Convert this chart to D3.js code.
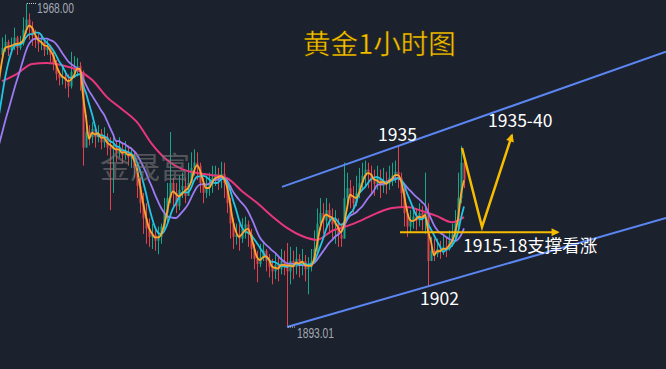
<!DOCTYPE html>
<html><head><meta charset="utf-8">
<script src="https://cdn.jsdelivr.net/npm/d3@7"></script>
<style>html,body{margin:0;padding:0;background:#1b212d;overflow:hidden}svg{display:block}</style>
</head><body><svg id="c" width="666" height="369"></svg>
<script>
// ---- data (gold, 1-hour candles) ----
const leadCloses=[1925.9,1927.1,1928.0,1928.9,1929.9,1930.5,1931.7,1934.0,1937.5,1943.3,1950.3,1956.1];
const closes=[
1957.7,1959.1,1957.2,1958.2,1960.1,1957.7,1958.7,1961.9,1964.3,1962.4,
1960.5,1959.6,1958.7,1959.1,1957.2,1958.2,1956.1,1954.0,1951.6,1950.7,
1951.1,1950.2,1948.8,1952.1,1953.0,1953.5,1952.1,1934.6,1938.2,1937.0,
1938.9,1937.0,1937.9,1935.8,1937.0,1934.6,1934.2,1935.1,1933.2,1934.2,
1932.8,1933.7,1932.3,1932.8,1929.9,1925.7,1921.7,1918.2,1915.8,1913.9,
1914.4,1913.0,1913.9,1916.3,1919.4,1922.9,1926.4,1924.1,1921.0,1924.8,
1925.7,1923.4,1926.4,1929.9,1931.1,1930.4,1926.4,1924.1,1925.2,1926.4,
1927.6,1928.5,1927.1,1928.5,1926.4,1921.7,1917.0,1913.9,1914.4,1913.5,
1915.8,1916.8,1914.6,1911.1,1908.8,1907.6,1909.2,1910.7,1908.3,1906.9,
1905.9,1907.4,1906.4,1908.3,1907.6,1905.9,1908.3,1906.9,1908.8,1907.4,
1908.3,1906.4,1906.9,1908.3,1911.1,1917.0,1919.4,1917.7,1920.1,1918.2,
1916.8,1917.0,1914.4,1913.5,1922.9,1925.2,1922.9,1921.7,1924.1,1926.4,
1928.1,1929.5,1928.5,1927.1,1926.2,1927.6,1925.7,1926.6,1926.2,1927.6,
1928.1,1929.0,1927.6,1924.1,1919.4,1916.3,1917.7,1918.6,1917.7,1919.4,
1918.2,1919.4,1908.3,1910.7,1909.9,1911.1,1910.7,1911.6,1911.1,1913.0,
1914.4,1917.0,1922.9,1931.1,1927.1];
const highs=[
1960.1,1960.8,1959.6,1960.1,1962.4,1960.5,1960.5,1964.8,1968.0,1965.7,
1963.8,1961.9,1961.0,1960.8,1959.6,1959.6,1958.4,1957.2,1954.9,1952.5,
1953.5,1952.5,1951.6,1956.8,1955.8,1955.4,1954.4,1952.5,1942.1,1939.8,
1940.5,1939.3,1939.8,1938.9,1939.3,1937.9,1937.0,1937.0,1936.1,1937.0,
1935.8,1936.1,1935.1,1934.6,1933.5,1931.1,1927.6,1924.1,1921.7,1918.2,
1917.0,1915.8,1916.3,1917.0,1922.9,1926.4,1938.2,1927.6,1926.4,1928.1,
1928.8,1927.6,1931.1,1933.5,1934.2,1933.5,1931.1,1927.6,1928.1,1928.8,
1930.4,1930.4,1929.9,1931.3,1931.1,1927.6,1922.9,1918.2,1917.0,1916.8,
1918.2,1918.6,1917.7,1915.8,1912.3,1910.7,1912.3,1913.0,1911.1,1909.9,
1908.8,1909.9,1909.2,1911.1,1910.7,1912.5,1911.6,1910.7,1911.6,1909.9,
1911.1,1909.7,1909.2,1911.1,1915.4,1920.5,1922.9,1921.7,1922.9,1921.7,
1920.5,1920.1,1918.2,1917.0,1931.1,1928.8,1927.1,1925.7,1928.1,1929.9,
1931.1,1931.6,1931.1,1930.4,1929.5,1930.4,1929.5,1929.9,1929.0,1930.4,
1931.1,1931.6,1935.2,1928.8,1925.2,1920.5,1920.1,1921.0,1920.5,1921.7,
1921.0,1928.8,1921.7,1913.9,1913.5,1913.5,1913.0,1914.4,1913.9,1915.4,
1917.0,1920.1,1928.8,1935.0,1932.3];
const lows=[
1955.4,1956.8,1955.8,1956.5,1957.2,1956.1,1957.2,1958.2,1961.0,1959.6,
1958.2,1957.7,1956.8,1957.2,1955.8,1956.1,1954.4,1952.5,1950.2,1949.0,
1949.2,1948.3,1946.2,1948.3,1950.7,1951.1,1947.8,1930.4,1934.6,1935.1,
1935.6,1934.6,1935.8,1934.2,1934.6,1932.8,1920.1,1924.1,1931.3,1932.3,
1930.9,1931.8,1930.4,1929.9,1927.6,1922.9,1919.4,1914.6,1912.3,1911.6,
1911.1,1910.7,1909.9,1912.3,1915.4,1917.0,1921.7,1920.5,1919.4,1920.1,
1922.9,1921.7,1923.4,1926.4,1928.1,1927.1,1924.1,1921.7,1922.9,1923.4,
1924.1,1925.7,1924.8,1925.2,1922.9,1919.4,1913.5,1911.1,1912.1,1910.7,
1912.5,1913.5,1911.6,1908.8,1906.4,1903.4,1906.9,1908.3,1905.9,1904.5,
1902.9,1904.1,1903.6,1905.2,1905.0,1893.01,1902.9,1904.1,1905.2,1904.5,
1905.0,1903.6,1900.6,1905.9,1908.3,1909.9,1915.4,1914.6,1916.3,1914.6,
1913.5,1912.3,1911.6,1911.6,1913.5,1920.5,1920.5,1919.4,1921.0,1922.9,
1924.8,1925.7,1925.2,1924.1,1923.4,1924.8,1922.9,1924.1,1923.8,1924.8,
1925.7,1926.4,1925.2,1921.0,1916.3,1913.9,1914.9,1915.8,1915.4,1916.3,
1915.4,1914.6,1902.3,1908.3,1908.3,1909.2,1908.8,1909.7,1909.2,1910.7,
1911.6,1913.5,1915.4,1921.7,1925.2];
// slow moving average (pink), read at these candle indices
const slowIdx=[0,5,10,15,20,25,30,35,40,45,50,55,60,65,70,75,80,85,90,95,100,105,110,115,120,125,130,135,140,145,150,154];
const slowMA=[1950.0,1951.7,1954.0,1954.2,1953.7,1952.6,1950.3,1946.3,1943.5,1940.5,1935.4,1931.7,1929.6,1928.7,1928.2,1927.5,1924.5,1921.8,1918.7,1916.0,1914.1,1913.2,1915.3,1916.4,1917.8,1919.4,1920.6,1920.8,1919.9,1918.7,1917.3,1918.5];
const maPeriods=[3,6,12];
// annotations: [candle index, price]
const channelUpper=[[93.33,1925.5],[221.33,1956.8]];
const channelLower=[[95,1893.0],[221.33,1918.3]];
const supportLine=[[132.67,1915.0],[185.33,1915.0]];
const forecastPath=[[153.33,1934.5],[160,1916.2],[170,1937.5]];
const title="黄金1小时图";
const labelHigh="1935", labelLow="1902", labelTarget="1935-40", labelSupport="1915-18支撑看涨";
const watermark="金晟富";

// ---- drawing ----
const svg=d3.select('#c');
const x=d3.scaleLinear().domain([0,154]).range([2,464]);
const y=d3.scaleLinear().domain([1893.01,1968]).range([327,3.5]);
const all=leadCloses.concat(closes);
const off=leadCloses.length;
const opens=closes.map((c,i)=>all[off+i-1]);

svg.append('rect').attr('width',666).attr('height',369).attr('fill','#1b212d');

const defs=svg.append('defs');
defs.append('marker').attr('id','arr').attr('viewBox','0 0 10 10').attr('refX',8).attr('refY',5)
  .attr('markerWidth',9).attr('markerHeight',8).attr('markerUnits','userSpaceOnUse').attr('orient','auto')
  .append('path').attr('d','M0,0L10,5L0,10z').attr('fill','#f6bd00');

// candles
const UP='#18a68b', DN='#e0434c';
const g=svg.append('g');
closes.forEach((c,i)=>{
  const o=opens[i];
  const col=c>=o?UP:DN;
  const xc=Math.round(x(i));
  const hi=Math.max(highs[i],o,c), lo=Math.min(lows[i],o,c);
  g.append('rect').attr('x',xc).attr('y',y(hi)).attr('width',1).attr('height',Math.max(1,y(lo)-y(hi))).attr('fill',col);
  const top=y(Math.max(o,c)), bot=y(Math.min(o,c));
  g.append('rect').attr('x',xc-0.5).attr('y',top).attr('width',2).attr('height',Math.max(1,bot-top)).attr('fill',col);
});

// moving averages
function sma(n){const out=[];for(let k=n-1;k<all.length;k++){out.push([k-off,d3.mean(all.slice(k-n+1,k+1))]);}return out;}
const line=d3.line().x(d=>x(d[0])).y(d=>y(d[1])).curve(d3.curveMonotoneX);
svg.append('path').datum(slowIdx.map((k,j)=>[k,slowMA[j]])).attr('d',line)
  .attr('fill','none').attr('stroke','#e8367c').attr('stroke-width',2);
const maCols=['#ffa62b','#22c4e4','#9b7bf2'];
[2,1,0].forEach(j=>{
  svg.append('path').datum(sma(maPeriods[j])).attr('d',line)
   .attr('fill','none').attr('stroke',maCols[j]).attr('stroke-width',1.8);
});

// watermark (over the candles)
svg.append('text').attr('x',100).attr('y',178).text(watermark)
  .attr('font-family','"Noto Sans CJK SC",sans-serif').attr('font-size',30)
  .attr('fill','rgba(120,120,120,0.6)');

// channel lines
const pl=d3.line().x(d=>x(d[0])).y(d=>y(d[1]));
[channelUpper,channelLower].forEach(d=>{
  svg.append('path').datum(d).attr('d',pl).attr('stroke','#5b86f2').attr('stroke-width',2).attr('fill','none');
});
// support arrow
svg.append('path').datum(supportLine).attr('d',pl).attr('stroke','#f6bd00').attr('stroke-width',2)
  .attr('fill','none').attr('marker-end','url(#arr)');
// forecast V
svg.append('path').datum(forecastPath).attr('d',pl).attr('stroke','#f6bd00').attr('stroke-width',2.5)
  .attr('fill','none').attr('stroke-linejoin','miter').attr('marker-end','url(#arr)');

// high / low labels
const hiIdx=d3.maxIndex(highs), loIdx=d3.minIndex(lows);
const fmt=d3.format('.2f');
const gl=svg.append('g').attr('font-family','"Liberation Sans",Arial,sans-serif').attr('font-size',14).attr('fill','#a3a9b4');
gl.append('line').attr('x1',x(hiIdx)+1).attr('x2',x(hiIdx)+10).attr('y1',y(highs[hiIdx])).attr('y2',y(highs[hiIdx]))
  .attr('stroke','#c8ccd4').attr('stroke-width',1).attr('stroke-dasharray','1,1');
gl.append('text').attr('x',x(hiIdx)+11).attr('y',y(highs[hiIdx])+9.5).text(fmt(highs[hiIdx]))
  .attr('textLength',37).attr('lengthAdjust','spacingAndGlyphs');
gl.append('line').attr('x1',x(loIdx)+1).attr('x2',x(loIdx)+9).attr('y1',y(lows[loIdx])).attr('y2',y(lows[loIdx]))
  .attr('stroke','#c8ccd4').attr('stroke-width',1).attr('stroke-dasharray','1,1');
gl.append('text').attr('x',x(loIdx)+10).attr('y',y(lows[loIdx])+10.5).text(fmt(lows[loIdx]))
  .attr('textLength',37).attr('lengthAdjust','spacingAndGlyphs');

// annotation text
const ft='"Noto Sans CJK SC","Noto Sans",sans-serif';
svg.append('text').attr('x',303).attr('y',54).text(title).attr('font-family',ft).attr('font-size',27.5)
  .attr('fill','#f6c200').attr('stroke','#3a2a00').attr('stroke-width',0.4);
const wt=svg.append('g').attr('font-family',ft).attr('font-size',17.5).attr('fill','#ffffff');
wt.append('text').attr('x',378).attr('y',141).text(labelHigh);
wt.append('text').attr('x',488).attr('y',127).text(labelTarget);
wt.append('text').attr('x',463).attr('y',252).text(labelSupport);
wt.append('text').attr('x',420).attr('y',305).text(labelLow);
</script></body></html>
